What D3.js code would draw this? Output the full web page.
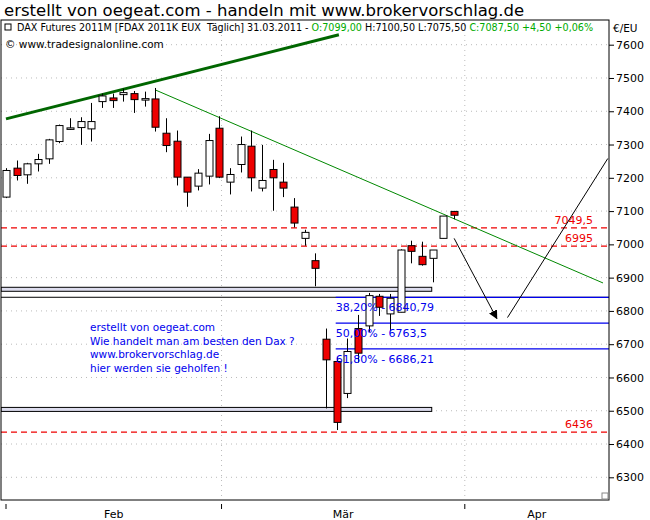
<!DOCTYPE html>
<html><head><meta charset="utf-8">
<script src="https://cdn.jsdelivr.net/npm/d3@7"></script>
<style>body{margin:0;background:#fff}text{font-family:"DejaVu Sans",Verdana,sans-serif}</style>
</head><body><svg id="c" width="650" height="520"></svg>
<script>
const opens  =[7142,7229,7209,7242,7257,7309,7348,7351,7347,7429,7440,7450,7453,7437,7437,7334,7310,7202,7175,7205,7349,7187,7240,7295,7169,7225,7187,7112,7018,6951,6715,6648,6552,6747,6755,6844,6791,6796,6996,6964,6958,7018,7099];
const highs  =[7229,7252,7245,7272,7317,7360,7379,7382,7425,7453,7453,7468,7461,7459,7470,7379,7342,7202,7226,7332,7385,7229,7324,7342,7299,7254,7245,7139,7044,6973,6747,6660,6717,6788,6854,6851,6851,6985,7011,7008,6983,7085,7100.5];
const lows   =[7139,7192,7182,7219,7242,7304,7344,7299,7309,7410,7410,7429,7395,7414,7339,7277,7177,7113,7162,7180,7199,7150,7216,7159,7159,7101,7142,7051,6996,6874,6507,6442,6538,6645,6737,6785,6740,6796,6943,6936,6886,7018,7075.5];
const closes =[7222,7207,7242,7255,7314,7357,7350,7369,7369,7446,7432,7456,7435,7438,7352,7297,7202,7157,7214,7312,7202,7210,7300,7200,7192,7200,7169,7064,7036,6928,6653,6465,6678,6673,6846,6811,6838,6983,6979,6939,6983,7085,7087.5];
const yTicks=[6300,6400,6500,6600,6700,6800,6900,7000,7100,7200,7300,7400,7500,7600];
const months=["Feb","Mär","Apr"];
const monthBounds=[0,20.2,43]; const monthEnd=56.5;
const redLevels=[7049.5,6995,6436]; const redLabels=["7049,5","6995","6436"];
const fibLevels=[6840.79,6763.5,6686.21]; const fibLabels=["38,20% - 6840,79","50,00% - 6763,5","61,80% - 6686,21"];
const supports=[6865,6504];
const trendUp=[[0,7377],[31.2,7630]];
const trendDown=[[14.0,7464],[55.95,6884]];
const arrow1=[[42,7018],[46,6777]];
const arrow2=[[47,6780],[56.4,7258]];
const blueText=["erstellt von oegeat.com","Wie handelt man am besten den Dax ?","www.brokervorschlag.de","hier werden sie geholfen !"];

const svg=d3.select("#c");
const L=1,R=609,T=20,B=500;
const x=d3.scaleLinear().domain([0,1]).range([6,16.67]);
const y=d3.scaleLinear().domain([6300,7600]).range([477.3,44.7]);
svg.append("defs").html('<clipPath id="cp"><rect x="1" y="20" width="608" height="480"/></clipPath><marker id="ah" viewBox="0 0 10 10" refX="9" refY="5" markerWidth="9" markerHeight="9" orient="auto"><path d="M0,0L10,5L0,10z" fill="#000"/></marker>');
svg.append("text").attr("x",4).attr("y",16).attr("font-size",16.5).attr("font-family","Verdana,DejaVu Sans").text("erstellt von oegeat.com - handeln mit www.brokervorschlag.de");
const g=svg.append("g");
g.selectAll(".hg").data(yTicks).join("line").attr("x1",L).attr("x2",R).attr("y1",d=>y(d)).attr("y2",d=>y(d)).attr("stroke","#bbb").attr("stroke-dasharray","1,4");
g.selectAll(".vg").data(monthBounds.slice(1)).join("line").attr("x1",d=>x(d)).attr("x2",d=>x(d)).attr("y1",T).attr("y2",B).attr("stroke","#bbb").attr("stroke-dasharray","1,4");
const p=svg.append("g").attr("clip-path","url(#cp)");
redLevels.forEach((v,i)=>{p.append("line").attr("x1",L).attr("x2",R).attr("y1",y(v)).attr("y2",y(v)).attr("stroke","#e00").attr("stroke-width",1.2).attr("stroke-dasharray","6,4");
 p.append("text").attr("x",593).attr("y",y(v)-4).attr("text-anchor","end").attr("font-size",11).attr("fill","#e00").text(redLabels[i]);});
p.append("line").attr("x1",L).attr("x2",R).attr("y1",y(6841)).attr("y2",y(6841)).attr("stroke","#000");
supports.forEach(v=>p.append("rect").attr("x",L).attr("width",x(39.9)-L).attr("y",y(v)-2).attr("height",4).attr("fill","#dde").attr("stroke","#000"));
fibLevels.forEach(v=>p.append("line").attr("x1",x(30.9)).attr("x2",R).attr("y1",y(v)).attr("y2",y(v)).attr("stroke","#00e").attr("stroke-width",1.2));
const ln=d3.line().x(d=>x(d[0])).y(d=>y(d[1]));
p.append("path").attr("d",ln(trendUp)).attr("stroke","#060").attr("stroke-width",3).attr("fill","none");
p.append("path").attr("d",ln(trendDown)).attr("stroke","#080").attr("stroke-width",1).attr("fill","none");
p.append("path").attr("d",ln(arrow1)).attr("stroke","#000").attr("fill","none").attr("marker-end","url(#ah)");
p.append("path").attr("d",ln(arrow2)).attr("stroke","#000").attr("fill","none");
const idx=d3.range(opens.length);
p.selectAll(".w").data(idx).join("line").attr("x1",i=>Math.round(x(i))+.5).attr("x2",i=>Math.round(x(i))+.5).attr("y1",i=>y(highs[i])).attr("y2",i=>y(lows[i])).attr("stroke","#000");
p.selectAll(".b").data(idx).join("rect").attr("x",i=>Math.round(x(i))-3).attr("width",7)
 .attr("y",i=>y(Math.max(opens[i],closes[i]))).attr("height",i=>Math.max(1.5,Math.abs(y(opens[i])-y(closes[i]))))
 .attr("fill",i=>closes[i]>=opens[i]?"#fff":"#e00").attr("stroke","#000");
fibLevels.forEach((v,i)=>p.append("text").attr("x",x(30.9)).attr("y",y(v)+14).attr("font-size",11).attr("fill","#00e").text(fibLabels[i]));
blueText.forEach((t,i)=>p.append("text").attr("x",90).attr("y",331+i*13.7).attr("font-size",10.5).attr("fill","#00e").text(t));
const h=svg.append("text").attr("x",17).attr("y",31).attr("font-size",9.6).attr("font-family","Verdana,DejaVu Sans");
[["DAX Futures 2011M [FDAX 2011K EUX  Täglich] 31.03.2011 - ","#000"],["O:7099,00 ","#0a0"],["H:7100,50 L:7075,50 ","#000"],["C:7087,50 +4,50 +0,06%","#0a0"]].forEach(s=>h.append("tspan").attr("fill",s[1]).attr("xml:space","preserve").text(s[0]));
svg.append("rect").attr("x",5).attr("y",24).attr("width",6).attr("height",6).attr("fill","none").attr("stroke","#000");
svg.append("text").attr("x",5).attr("y",48).attr("font-size",10.5).text("© www.tradesignalonline.com");
svg.append("rect").attr("x",L).attr("y",T).attr("width",R-L).attr("height",B-T).attr("fill","none").attr("stroke","#000");
svg.append("rect").attr("x",R-7).attr("y",B-7).attr("width",6).attr("height",6).attr("fill","#fff").attr("stroke","#888");
const ya=svg.append("g").attr("transform",`translate(${R},0)`).call(d3.axisRight(y).tickValues(yTicks).tickSize(5).tickFormat(d=>d));
ya.select(".domain").remove();
ya.selectAll("text").attr("font-size",11).attr("x",7).attr("font-family","Verdana,DejaVu Sans");
svg.append("text").attr("x",613).attr("y",32).attr("font-size",10.5).text("€/EU");
svg.selectAll(".mt").data(monthBounds).join("line").attr("x1",d=>x(d)).attr("x2",d=>x(d)).attr("y1",B+4).attr("y2",B+9).attr("stroke","#000");
svg.selectAll(".ml").data(months).join("text").attr("x",(d,i)=>(x(monthBounds[i])+x(i<2?monthBounds[i+1]:monthEnd))/2).attr("y",518).attr("text-anchor","middle").attr("font-size",11).text(d=>d);
</script></body></html>
